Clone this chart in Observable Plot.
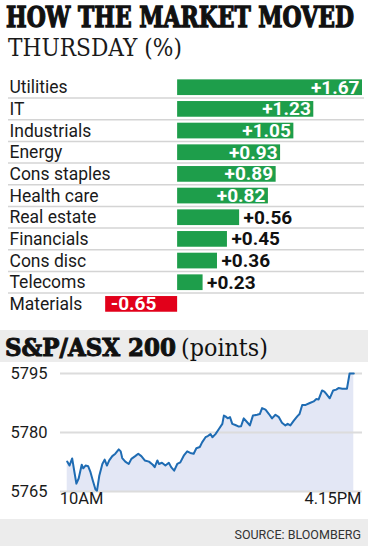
<!DOCTYPE html>
<html><head><meta charset="utf-8">
<script src="https://cdn.jsdelivr.net/npm/d3@7"></script>
<script src="https://cdn.jsdelivr.net/npm/@observablehq/plot@0.6"></script>
<style>
html,body{margin:0;padding:0;background:#fff;}
body{width:368px;height:546px;overflow:hidden;}
svg{display:block;}
#footer{background:#ececec;height:27px;box-sizing:border-box;padding:2px 7px 0 0;text-align:right;font:12.5px Roboto,sans-serif;line-height:27px;color:#333;}
</style></head><body>
<svg id="head" width="368" height="70">
  <text class="fit" data-x="6" data-w="348" y="27.3" font-family="DejaVu Serif" font-weight="bold" font-size="27" fill="#111" stroke="#111" stroke-width="1.3">HOW THE MARKET MOVED</text>
  <text class="fit" data-x="8" data-w="174" y="56" font-family="DejaVu Serif" font-size="24" fill="#1a1a1a">THURSDAY (%)</text>
</svg>
<div id="bars"></div>
<svg id="band" width="368" height="32" style="background:#ececec">
  <text class="fit" data-x="5" data-w="171" y="26" font-family="DejaVu Serif" font-weight="bold" font-size="24" fill="#111" stroke="#111" stroke-width="1">S&amp;P/ASX 200</text>
  <text class="fit" data-x="181" data-w="87" y="26" font-family="DejaVu Serif" font-size="24" fill="#111">(points)</text>
</svg>
<div id="line"></div>
<div id="footer">SOURCE: BLOOMBERG</div>
<script>
// ---- Sector performance (Thursday, %) ----
const sectors = ["Utilities","IT","Industrials","Energy","Cons staples","Health care","Real estate","Financials","Cons disc","Telecoms","Materials"];
const changes = [1.67,1.23,1.05,0.93,0.89,0.82,0.56,0.45,0.36,0.23,-0.65];

// ---- S&P/ASX 200 intraday (minutes after 10AM, points) ----
const minutes = [0,3,6.5,9.5,12,15,19,21,24,27.5,30.5,33.5,37,39,42,46,49,52,55,59,63,67.5,70,72,76,80.5,84,89,93,97,101.5,107,112,114.5,118,120,124,128.5,133,136,140,144,148,152.5,157,161,165.5,169,173.5,176.5,181,184,187.5,190,194,198.5,203,205,207,210,213,216,220,224.5,227.5,231,235.5,239,243,248.5,252,255,259.5,264,268,272.5,277,281,285.5,288.5,292,296.5,301,304,307.5,312,317.5,322.5,326,329,333.5,336.5,339,343.5,348,352,355,360,366,369.5,375];
const prices = [5772.6,5771.6,5773.4,5769.9,5767,5768.3,5771.8,5770.9,5771.6,5771.4,5769.9,5767.8,5765.5,5765.2,5769,5772,5773.1,5771.6,5772.9,5774,5774.6,5775.7,5775.2,5773.5,5772.6,5772,5773.3,5774,5774.6,5774,5772.9,5772.6,5771.8,5771.2,5772.9,5772,5772.3,5771.6,5772.3,5771.2,5770.3,5772,5772.4,5774.1,5775.2,5774.8,5774.6,5776,5776.3,5777.5,5778.8,5779.1,5779.6,5778.8,5779.6,5780.9,5782.2,5784.3,5784.1,5783.6,5783.9,5782.2,5781.9,5781.5,5781.6,5783.6,5782.6,5781.8,5784.3,5784.5,5784.7,5786.2,5785.8,5784.7,5783.6,5784.5,5783.9,5782.5,5781.8,5782.2,5781.8,5783,5784.1,5784.7,5787,5787,5787.5,5787.9,5788.5,5788.4,5790.7,5790.4,5789.8,5788.7,5790.7,5790.9,5791.3,5791.1,5791.1,5795,5795];
const yTicks = [5765,5780,5795];
const xTickValues = [0,375];
const xTickLabels = ["10AM","4.15PM"];

// fit heading texts to their measured widths
document.querySelectorAll("text.fit").forEach(t => {
  const w = t.getComputedTextLength();
  const target = +t.dataset.w, x0 = +t.dataset.x;
  t.setAttribute("x", 0);
  t.setAttribute("transform", `translate(${x0},0) scale(${target / w},1)`);
});

const GREEN = "#1e9e4b", RED = "#e2001a";
const rows = sectors.map((s,i)=>({sector:s, change:changes[i]}));
const fmt = v => (v>0?"+":"") + v.toFixed(2);

const bars = Plot.plot({
  width:368, height:260, marginTop:3.4, marginBottom:12.3, marginLeft:0, marginRight:6,
  x:{domain:[-1.6,1.67], axis:null},
  y:{domain:sectors, padding:0.275, round:false, axis:null},
  style:{fontFamily:"Roboto, sans-serif", fontSize:"17.5px", color:"#222", background:"transparent"},
  marks:[
    Plot.ruleY(sectors.slice(0,-1), {y:d=>d, dy:10.4, insetLeft:8, insetRight:-2, stroke:"#d4d4d4", strokeWidth:1.5}),
    Plot.barX(rows.filter(d=>d.change>=0), {x:"change", y:"sector", fill:GREEN}),
    Plot.barX(rows.filter(d=>d.change<0), {x:"change", y:"sector", fill:RED}),
    Plot.text(sectors, {y:d=>d, text:d=>d, frameAnchor:"left", dx:9, textAnchor:"start", fill:"#1a1a1a"}),
    Plot.text(rows.filter(d=>d.change>=0.8), {x:"change", y:"sector", text:d=>fmt(d.change), textAnchor:"end", dx:-3, fill:"white", fontWeight:"bold", fontSize:19}),
    Plot.text(rows.filter(d=>d.change>=0 && d.change<0.8), {x:"change", y:"sector", text:d=>fmt(d.change), textAnchor:"start", dx:4, fill:"#111", fontWeight:"bold", fontSize:19}),
    Plot.text(rows.filter(d=>d.change<0), {x:"change", y:"sector", text:d=>fmt(d.change), textAnchor:"start", dx:5, fill:"white", fontWeight:"bold", fontSize:19})
  ]
});
document.getElementById("bars").appendChild(bars);

const pts = minutes.map((m,i)=>({m, v:prices[i]}));
const line = Plot.plot({
  width:368, height:157, marginTop:11, marginBottom:28, marginLeft:66.7, marginRight:14.7,
  x:{domain:[0,375], axis:null},
  y:{domain:[5765,5795], axis:null},
  style:{fontFamily:"Roboto, sans-serif", fontSize:"16.5px", color:"#222", background:"transparent"},
  marks:[
    Plot.areaY(pts, {x:"m", y1:5765, y2:"v", fill:"#e3e7f5"}),
    Plot.ruleY(yTicks, {insetLeft:-6.7, insetRight:-8.7, stroke:"#dcdcdc", strokeWidth:2}),
    Plot.lineY(pts, {x:"m", y:"v", stroke:"#1f6cb3", strokeWidth:2}),
    Plot.text(yTicks, {y:d=>d, text:d=>String(d), frameAnchor:"left", dx:-56.7, textAnchor:"start", fill:"#1a1a1a"}),
    Plot.text([0], {x:()=>xTickValues[0], text:()=>xTickLabels[0], frameAnchor:"bottom", dy:12, dx:-7.4, textAnchor:"start", fill:"#1a1a1a"}),
    Plot.text([0], {x:()=>xTickValues[1], text:()=>xTickLabels[1], frameAnchor:"bottom", dy:12, dx:7.7, textAnchor:"end", fill:"#1a1a1a"})
  ]
});
document.getElementById("line").appendChild(line);
</script>
</body></html>
